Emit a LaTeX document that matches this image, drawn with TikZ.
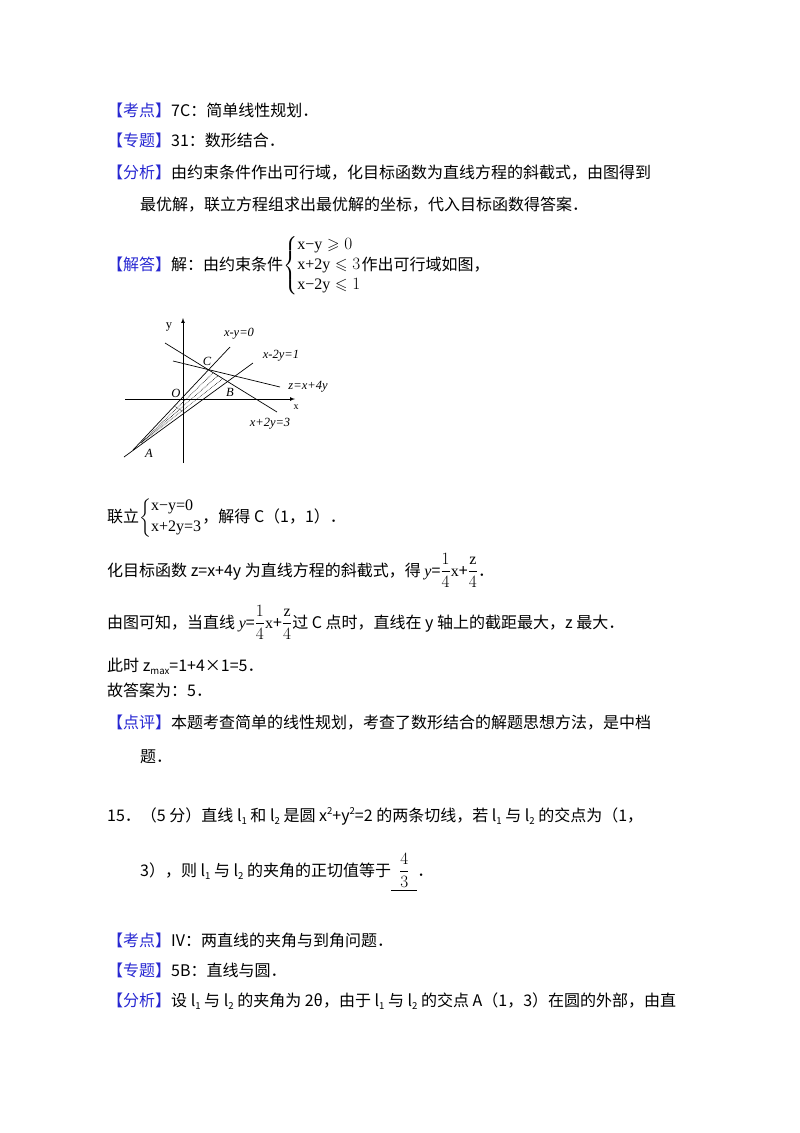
\documentclass[tikz,border=0pt]{standalone}
\usepackage{amsmath,amssymb}
\usepackage{fontspec}
\usepackage{graphicx}
\usetikzlibrary{calc,intersections}
\setmainfont{Noto Sans CJK SC}
\newfontfamily\tms{Liberation Serif}
\newcommand\lsub[1]{\raisebox{-0.35ex}{\scalebox{0.6}{#1}}}
\newcommand\lsup[1]{\raisebox{0.8ex}{\scalebox{0.6}{#1}}}
\definecolor{kb}{RGB}{40,40,210}
\newcommand\kw[1]{\textcolor{kb}{【#1】}}
\begin{document}
\begin{tikzpicture}[x=1pt,y=-1pt,
  txt/.style={anchor=base west,inner sep=0pt,font=\fontsize{16}{18}\selectfont},
  lbl/.style={inner sep=0pt,font=\tms\itshape\fontsize{12.5}{13}\selectfont},
  gl/.style={line width=0.7pt}]
\useasboundingbox[fill=white] (0,0) rectangle (800,1133);
\node[txt] (t1) at (107,116) {\kw{考点}7C：简单线性规划．};
\node[txt] (t2) at (107,146) {\kw{专题}31：数形结合．};
\node[txt] (t3) at (107,178) {\kw{分析}由约束条件作出可行域，化目标函数为直线方程的斜截式，由图得到};
\node[txt] (t4) at (140,210) {最优解，联立方程组求出最优解的坐标，代入目标函数得答案．};
\node[txt] (t5) at (107,270) {\kw{解答}解：由约束条件$\left\{\begin{array}{@{}l@{}}\mbox{\tms x−y}\geqslant 0\\[2pt]\mbox{\tms x+2y}\leqslant 3\\[2pt]\mbox{\tms x−2y}\leqslant 1\end{array}\right.$作出可行域如图，};
% graph
\coordinate (ya) at (183,463); \coordinate (yb) at (183,318);
\coordinate (xa) at (125,399); \coordinate (xb) at (295,399);
\draw[gl,-latex] (ya) -- (yb);
\draw[gl,-latex] (xa) -- (xb);
\coordinate (l1a) at (133,450); \coordinate (l1b) at (230,347);
\coordinate (l2a) at (124,457); \coordinate (l2b) at (253,363);
\coordinate (l3a) at (165,343); \coordinate (l3b) at (277,412);
\coordinate (l4a) at (173,361); \coordinate (l4b) at (280,387);
\draw[gl,name path=L1] (l1a) -- (l1b);
\draw[gl,name path=L2] (l2a) -- (l2b);
\draw[gl,name path=L3] (l3a) -- (l3b);
\draw[gl] (l4a) -- (l4b);
\path[name intersections={of=L1 and L3,by=C}];
\path[name intersections={of=L2 and L3,by=B}];
\coordinate (A) at (141,443);
\foreach \t in {0.25,0.5,0.75}{
  \draw[densely dotted,line width=0.6pt] (A) -- ($(C)!\t!(B)$);}
\draw[densely dotted,line width=0.6pt] ($(A)!0.5!(C)$) -- ($(A)!0.5!(B)$);
\node[lbl,font=\tms\fontsize{12.5}{13}\selectfont] (ly) at (169,327) {y};
\node[lbl,font=\tms\fontsize{10}{10}\selectfont] (lx) at (296,407) {x};
\node[lbl] (e1) at (239,334) {x-y=0};
\node[lbl] (e2) at (281,356) {x-2y=1};
\node[lbl] (e3) at (308,387) {z=x+4y};
\node[lbl] (e4) at (270,424) {x+2y=3};
\node[lbl] (nC) at (207,361) {C};
\node[lbl] (nO) at (176,393) {O};
\node[lbl] (nB) at (230,392) {B};
\node[lbl] (nA) at (149,453) {A};
% text continues
\node[txt] (t6) at (107,522) {联立$\left\{\begin{array}{@{}l@{}}\mbox{\tms x−y=0}\\[3pt]\mbox{\tms x+2y=3}\end{array}\right.$，解得 C（1，1）．};
\node[txt] (t7) at (107,576) {化目标函数 z=x+4y 为直线方程的斜截式，得 {\tms\itshape y}=$\dfrac{1}{4}$\mbox{\tms x}+$\dfrac{\mbox{\tms z}}{4}$．};
\node[txt] (t8) at (107,628) {由图可知，当直线 {\tms\itshape y}=$\dfrac{1}{4}$\mbox{\tms x}+$\dfrac{\mbox{\tms z}}{4}$过 C 点时，直线在 y 轴上的截距最大，z 最大．};
\node[txt] (t9) at (107,671) {此时 z\lsub{max}=1+4×1=5．};
\node[txt] (t10) at (107,696) {故答案为：5．};
\node[txt] (t11) at (107,728) {\kw{点评}本题考查简单的线性规划，考查了数形结合的解题思想方法，是中档};
\node[txt] (t12) at (140,762) {题．};
\node[txt] (t13) at (107,821) {15．（5 分）直线 l\lsub{1} 和 l\lsub{2} 是圆 x\lsup{2}+y\lsup{2}=2 的两条切线，若 l\lsub{1} 与 l\lsub{2} 的交点为（1，};
\node[txt] (t14) at (140,876) {3），则 l\lsub{1} 与 l\lsub{2} 的夹角的正切值等于\underline{\hspace{8pt}$\dfrac{4}{3}$\hspace{8pt}}．};
\node[txt] (t15) at (107,946) {\kw{考点}IV：两直线的夹角与到角问题．};
\node[txt] (t16) at (107,976) {\kw{专题}5B：直线与圆．};
\node[txt] (t17) at (107,1006) {\kw{分析}设 l\lsub{1} 与 l\lsub{2} 的夹角为 2θ，由于 l\lsub{1} 与 l\lsub{2} 的交点 A（1，3）在圆的外部，由直};
\end{tikzpicture}
\end{document}
